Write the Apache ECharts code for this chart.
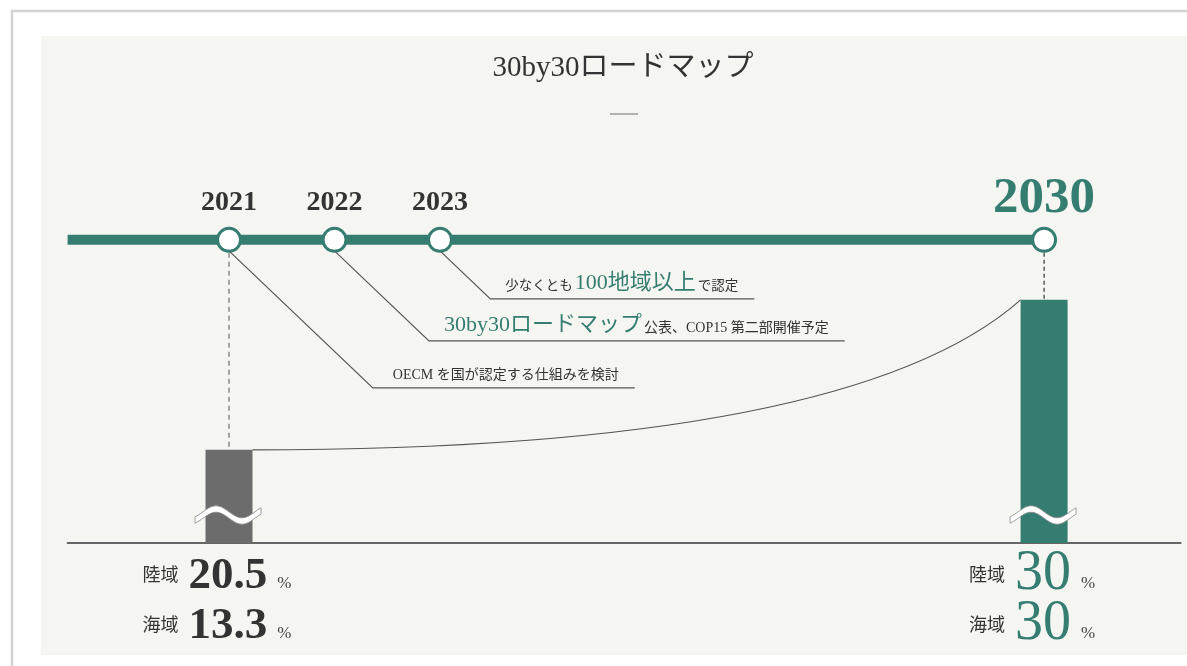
<!DOCTYPE html>
<html><head><meta charset="utf-8">
<script src="https://cdn.jsdelivr.net/npm/echarts@6/dist/echarts.min.js"></script>
<style>html,body{margin:0;padding:0;background:#fff;}#c{width:1187px;height:666px;}</style>
</head><body><div id="c"></div>
<script>
// ---------- data ----------
const chartTitle = '30by30ロードマップ';
const years = [2021, 2022, 2023, 2030];
const yearLabels = ['2021', '2022', '2023', '2030'];
const barYears = [2021, 2030];
const landPct = [20.5, 30];
const seaPct = [13.3, 30];
const rowLabels = ['陸域', '海域'];
const pctUnit = '%';
// annotation text runs for 2021, 2022, 2023: [text, highlighted]
const events2021 = [['OECM を国が認定する仕組みを検討', false]];
const events2022 = [['30by30ロードマップ', true], ['公表、COP15 第二部開催予定', false]];
const events2023 = [['少なくとも', false], ['100地域以上', true], ['で認定', false]];
const events = [events2021, events2022, events2023];

// ---------- layout / style ----------
const TEAL = '#357d70';
const DARK = '#333333';
const BAR_PAST = '#6c6c6c';
const PANEL = '#f5f6f2';
const FONT = "'Liberation Serif', 'Noto Sans CJK JP', serif";
const X_MIN = 2019.47, X_MAX = 2030.02;   // broken time axis (2023→2030 compressed)
const Y_MIN = 14.6, Y_MAX = 38;           // broken value axis (hence the wave marks)
const TIMELINE_Y = 33.8;
const ANNOT_DROP = [136, 89, 47];
const ANNOT_PAD = [20, 15, 15];
const ANNOT_NORMAL = [14, 14, 13.5];
const ANNOT_HIGH = [22, 22, 22];
const BAR_W = 47;
function axisX(y) { return y <= 2023 ? y : 2023 + (y - 2023) * 0.818; }

const mctx = document.createElement('canvas').getContext('2d');
function tw(text, size, weight) { mctx.font = (weight || 'normal') + ' ' + size + 'px ' + FONT; return mctx.measureText(text).width; }
function txt(text, x, y, size, color, weight, align) {
  return { type: 'text', style: { text: text, x: x, y: y, fontSize: size, fontFamily: FONT, fontWeight: weight || 'normal',
    fill: color, align: align || 'left', verticalAlign: 'middle', textAlign: align || 'left', textVerticalAlign: 'middle' } };
}

const chart = echarts.init(document.getElementById('c'), null, { renderer: 'canvas' });

const option = {
  animation: false,
  backgroundColor: '#ffffff',
  title: {
    text: chartTitle, left: 618, top: 49, textAlign: 'center',
    textStyle: { fontFamily: FONT, fontSize: 29, fontWeight: 'normal', color: DARK }
  },
  graphic: [
    { type: 'rect', z: -10, shape: { x: 41, y: 36, width: 1146, height: 619 }, style: { fill: PANEL } },
    { type: 'line', z: -10, shape: { x1: 11, y1: 11, x2: 1187, y2: 11 }, style: { stroke: '#d3d3d1', lineWidth: 2.5 } },
    { type: 'line', z: -10, shape: { x1: 12, y1: 10, x2: 12, y2: 666 }, style: { stroke: '#d3d3d1', lineWidth: 2.5 } },
    { type: 'line', shape: { x1: 610, y1: 114, x2: 638, y2: 114 }, style: { stroke: '#9a9a9a', lineWidth: 1.5 } }
  ],
  grid: { left: 67.6, right: 6.4, top: 173.5, bottom: 123 },
  xAxis: {
    type: 'value', min: X_MIN, max: X_MAX,
    axisLine: { show: true, onZero: false, lineStyle: { color: '#666', width: 2 } },
    axisTick: { show: false }, axisLabel: { show: false }, splitLine: { show: false }
  },
  yAxis: { type: 'value', min: Y_MIN, max: Y_MAX, show: false, splitLine: { show: false } },
  series: [
    { // timeline
      type: 'custom', clip: false, z: 2, data: [[X_MIN, TIMELINE_Y]],
      renderItem: function (params, api) {
        const p0 = api.coord([X_MIN, TIMELINE_Y]);
        const p1 = api.coord([axisX(years[years.length - 1]), TIMELINE_Y]);
        return { type: 'line', shape: { x1: p0[0], y1: p0[1], x2: p1[0], y2: p1[1] }, style: { stroke: TEAL, lineWidth: 10 } };
      }
    },
    { // growth curve between bars
      type: 'custom', clip: false, z: 3,
      data: [[axisX(barYears[0]), landPct[0], axisX(barYears[1]), landPct[1]]],
      renderItem: function (params, api) {
        const a = api.coord([api.value(0), api.value(1)]);
        const b = api.coord([api.value(2), api.value(3)]);
        const x1 = a[0] + BAR_W / 2, y1 = a[1], x2 = b[0] - BAR_W / 2, y2 = b[1];
        return { type: 'bezierCurve', shape: { x1: x1, y1: y1, x2: x2, y2: y2, cpx1: x1 + 0.78 * (x2 - x1), cpy1: y1 },
          style: { stroke: '#555', lineWidth: 1.2, fill: null } };
      }
    },
    { // bars + dashed guides + waves + bottom labels
      type: 'custom', clip: false, z: 3,
      data: barYears.map(function (y, i) { return [axisX(y), landPct[i], seaPct[i], i]; }),
      renderItem: function (params, api) {
        const i = api.value(3);
        const top = api.coord([api.value(0), api.value(1)]);
        const base = api.coord([api.value(0), Y_MIN]);
        const tl = api.coord([api.value(0), TIMELINE_Y]);
        const cx = top[0];
        const isTarget = i === barYears.length - 1;
        const color = isTarget ? TEAL : BAR_PAST;
        const children = [];
        children.push({ type: 'rect', shape: { x: cx - BAR_W / 2, y: top[1], width: BAR_W, height: base[1] - top[1] }, style: { fill: color } });
        children.push({ type: 'line', shape: { x1: cx, y1: tl[1] + 13, x2: cx, y2: top[1] },
          style: { stroke: isTarget ? '#333' : '#8a8a8a', lineWidth: isTarget ? 1.2 : 1.5, lineDash: isTarget ? [4, 3] : [5, 4] } });
        // wave (axis break mark)
        const wy = base[1] - 28, A = 6, P = 52, up = [], dn = [];
        for (let x = -34; x <= 32; x += 2) {
          const y = wy + A * Math.sin(2 * Math.PI * x / P);
          up.push([cx + x, y - 3.2]); dn.unshift([cx + x, y + 3.2]);
        }
        children.push({ type: 'polygon', shape: { points: up.concat(dn) }, style: { fill: '#ffffff', stroke: '#8a8a8a', lineWidth: 0.8 } });
        // bottom labels
        const vals = [api.value(1), api.value(2)].map(function (v) { return String(v); });
        const numSize = isTarget ? 56 : 45, numWeight = isTarget ? 'normal' : 'bold', numColor = isTarget ? TEAL : DARK;
        const lw = tw(rowLabels[0], 18);
        const nw = Math.max(tw(vals[0], numSize, numWeight), tw(vals[1], numSize, numWeight));
        const pw = tw(pctUnit, 17);
        const total = lw + 10 + nw + 10 + pw;
        const x0 = cx - 12 - total / 2;
        [0, 1].forEach(function (r) {
          const ry = base[1] + 33 + r * 50;
          children.push(txt(rowLabels[r], x0, ry, 18, DARK, 'normal', 'left'));
          children.push(txt(vals[r], x0 + lw + 10, ry - (isTarget ? 1.5 : 0), numSize, numColor, numWeight, 'left'));
          children.push(txt(pctUnit, x0 + lw + 10 + nw + 10, ry + 8, 17, '#444', 'normal', 'left'));
        });
        return { type: 'group', children: children };
      }
    },
    { // milestones: circles, year labels, annotations
      type: 'custom', clip: false, z: 5,
      data: years.map(function (y, i) { return [axisX(y), TIMELINE_Y, i]; }),
      renderItem: function (params, api) {
        const i = api.value(2);
        const p = api.coord([api.value(0), api.value(1)]);
        const isTarget = i === years.length - 1;
        const children = [];
        children.push({ type: 'circle', shape: { cx: p[0], cy: p[1], r: 11.5 }, style: { fill: '#ffffff', stroke: TEAL, lineWidth: 3 } });
        if (isTarget) children.push(txt(yearLabels[i], p[0], p[1] - 41, 51, TEAL, 'bold', 'center'));
        else children.push(txt(yearLabels[i], p[0], p[1] - 37, 28, DARK, 'bold', 'center'));
        const ev = events[i];
        if (ev) {
          const sx = p[0] + 1, sy = p[1] + 12;
          const drop = ANNOT_DROP[i];
          const ex = sx + drop * 1.05, ey = sy + drop;
          const baseLine = ey - 8;
          let x = ex + ANNOT_PAD[i];
          ev.forEach(function (run, k) {
            const size = run[1] ? ANNOT_HIGH[i] : ANNOT_NORMAL[i];
            const w = tw(run[0], size);
            children.push(txt(run[0], x, baseLine - 0.3375 * size, size, run[1] ? TEAL : DARK, 'normal', 'left'));
            x += w + (k < ev.length - 1 ? 2 : 0);
          });
          const uend = x + 16;
          children.push({ type: 'polyline', shape: { points: [[sx, sy], [ex, ey], [uend, ey]] }, style: { stroke: '#555', lineWidth: 1.2, fill: null } });
        }
        return { type: 'group', children: children };
      }
    }
  ]
};
chart.setOption(option);
</script>
</body></html>
